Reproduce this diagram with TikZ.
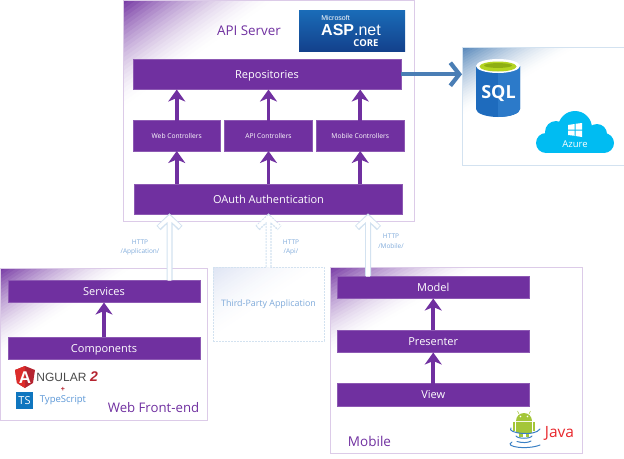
\documentclass[tikz,border=0pt]{standalone}
\usepackage{fontspec}
\setmainfont{Open Sans}
\newfontfamily\heros{Liberation Sans}
\usetikzlibrary{arrows.meta,calc}
\definecolor{brand}{HTML}{7030A0}
\definecolor{brandedge}{HTML}{DCCBE8}
\definecolor{paleblue}{HTML}{D3E2F0}
\definecolor{linkblue}{HTML}{7FAADA}
\definecolor{steel}{HTML}{4A7EB5}
\definecolor{glowpale}{HTML}{DDE3F3}
\definecolor{sqlleft}{HTML}{1E6BBD}
\definecolor{sqlright}{HTML}{2C7AC9}
\definecolor{sqlgreen}{HTML}{B4D422}
\definecolor{sqlgreendark}{HTML}{8FAE14}
\definecolor{azurecyan}{HTML}{00BCF2}
\definecolor{asptop}{HTML}{1A6CB8}
\definecolor{aspbottom}{HTML}{13418C}
\definecolor{ngleft}{HTML}{DD2C2A}
\definecolor{ngright}{HTML}{B52430}
\definecolor{ngtext}{HTML}{4A4A4A}
\definecolor{tsblue}{HTML}{0F76BF}
\definecolor{tstext}{HTML}{5A96D6}
\definecolor{droid}{HTML}{A4C639}
\definecolor{javablue}{HTML}{3A80C4}
\definecolor{javared}{HTML}{E8272C}
\newcommand{\sz}[1]{\fontsize{#1}{#1}\selectfont}
\newcommand{\rectnode}[7]{\node[#2,minimum width={(#5)*1pt-(#3)*1pt},minimum height={(#6)*1pt-(#4)*1pt}] (#1) at ({(#3+#5)/2},{(#4+#6)/2}) {#7};}
% nested triangles from the panel's top-left corner: #1 colour, #2 x, #3 y, #4 reach in x, #5 reach in y
\newcommand{\cornerglow}[5]{%
  \foreach \s in {1,0.96,...,0.02}{
    \pgfmathsetmacro{\mixv}{100*(1-\s)^1.6}
    \fill[#1!\mixv!white] (#2,#3) -- ({#2+#4*\s},#3) -- (#2,{#3+#5*\s}) -- cycle;
  }}
\newcommand{\hollow}[4]{% #1 style, #2 bottom, #3 x, #4 tip y
  \draw[#1,hollowouter] (#2) -- (#3,#4+4) (#3-11,#4+14) -- (#3,#4+3.5) -- (#3+11,#4+14);
  \draw[hollowinner] ($(#2)+(0,0.5)$) -- (#3,#4+4.5) (#3-10.5,#4+13) -- (#3,#4+3.5) -- (#3+10.5,#4+13);}
\tikzset{
  x=1pt,y=-1pt,
  panel/.style={draw=brandedge,line width=0.9pt,inner sep=0pt,outer sep=0pt},
  bar/.style={draw=brand!80!white,line width=0.3pt,fill=brand,text=white,inner sep=0pt,outer sep=0pt,font=\sz{11},text height=9pt,text depth=1pt},
  smallbar/.style={bar,font=\sz{6.7},text height=5.6pt,text depth=0.6pt},
  up/.style={brand,line width=3.8pt,-{Stealth[length=12pt,width=17pt,inset=3.5pt]}},
  hollowouter/.style={paleblue,line width=6pt,line cap=butt,miter limit=10},
  hollowinner/.style={white,line width=3.6pt,line cap=butt,miter limit=10},
  dashline/.style={dash pattern=on 2pt off 1pt},
  paneltitle/.style={text=brand,inner sep=0pt},
  logotext/.style={text=white,inner sep=0pt},
  linklabel/.style={text=linkblue,inner sep=0pt,font=\sz{6.5},align=center},
  swirl/.style={javablue,line width=1pt,line cap=round},
}
\begin{document}
\begin{tikzpicture}
\useasboundingbox (0,0) rectangle (624,458);
% corner gradients
\cornerglow{brand}{123}{0.5}{155}{110}
\cornerglow{steel}{462}{47}{118}{70}
\cornerglow{brand}{0.5}{268}{135}{90}
\cornerglow{brand}{330}{267}{155}{90}
\cornerglow{glowpale}{213}{267}{111}{74}
% panels
\rectnode{api}{panel}{123}{0.5}{414}{221.5}{}
\rectnode{data}{panel,draw=paleblue}{462}{47}{625}{165}{}
\rectnode{web}{panel}{0.5}{268}{207}{420}{}
\rectnode{mobile}{panel}{330}{267}{582}{453.5}{}
\rectnode{third}{panel,draw=paleblue,dashline,text=linkblue,font=\sz{8.9}}{213}{267}{324}{341}{Third-Party Application}
% API server
\node[paneltitle,font=\sz{13.4}] (apititle) at (249,31) {API Server};
\rectnode{repos}{bar}{133}{59}{401}{89.5}{Repositories}
\rectnode{webctl}{smallbar}{133}{120.5}{220.5}{151}{Web Controllers}
\rectnode{apictl}{smallbar}{224.5}{120.5}{312.5}{151}{API Controllers}
\rectnode{mobctl}{smallbar}{316.5}{120.5}{404}{151}{Mobile Controllers}
\rectnode{oauth}{bar}{134.5}{184}{402.5}{214}{OAuth Authentication}
\foreach \c in {webctl,apictl,mobctl}{
  \draw[up] (\c.north) -- (\c.north |- repos.south);
  \draw[up] (\c.south |- oauth.north) -- (\c.south);
}
% ASP.NET logo
\rectnode{asp}{inner sep=0pt,outer sep=0pt,top color=asptop,bottom color=aspbottom}{299}{10}{405}{51}{}
\node[logotext,font=\heros\sz{7}] (aspms) at (335.5,17.5) {Microsoft};
\node[logotext,font=\heros\sz{16}] (aspname) at (351,29.5) {\textbf{ASP}.net};
\node[logotext,font=\sz{9.5}\bfseries] (aspcore) at (366,43) {CORE};
% data panel
\draw[steel,line width=4.2pt,-{Straight Barb[length=9pt,width=23pt]}] (repos.east) -- (repos.east -| data.west);
\fill[sqlleft] (476,66) -- (476,109) arc[start angle=180,end angle=0,x radius=22,y radius=8] -- (520,66) -- cycle;
\fill[sqlright] (498,66) -- (498,117) arc[start angle=90,end angle=0,x radius=22,y radius=8] -- (520,66) -- cycle;
\fill[white] (498,66) ellipse[x radius=22,y radius=7];
\fill[sqlgreen] (498,66.5) ellipse[x radius=18.5,y radius=5];
\fill[sqlgreendark] (498,65.5) ellipse[x radius=14,y radius=2.4];
\node[logotext,font=\sz{18}\bfseries] (sql) at (498.5,94) {SQL};
\fill[azurecyan] (546,133) rectangle (604,153);
\fill[azurecyan] (546,143) circle[radius=10];
\fill[azurecyan] (604,143) circle[radius=10];
\fill[azurecyan] (556,132) circle[radius=11];
\fill[azurecyan] (575,128) circle[radius=17];
\fill[azurecyan] (597,134) circle[radius=10];
\fill[white] (568,125) -- (574.5,124) -- (574.5,129.5) -- (568,129.5) -- cycle
             (575.5,123.8) -- (582,123) -- (582,129.5) -- (575.5,129.5) -- cycle
             (568,130.5) -- (574.5,130.5) -- (574.5,135.8) -- (568,135) -- cycle
             (575.5,130.5) -- (582,130.5) -- (582,137) -- (575.5,136) -- cycle;
\node[logotext,font=\sz{9.5}] (azure) at (575,144.5) {Azure};
% web front-end
\rectnode{services}{bar}{8}{280}{200}{302.5}{Services}
\rectnode{components}{bar}{8}{337}{200}{359.5}{Components}
\draw[up] (components.north) -- (services.south);
\node[paneltitle,font=\sz{13.2}] (webtitle) at (153.5,407.5) {Web Front-end};
\fill[ngright] (25,366) -- (15,370) -- (17,383) -- (25,388) -- (33,383) -- (35,370) -- cycle;
\fill[ngleft] (25,366) -- (15,370) -- (17,383) -- (25,388) -- cycle;
\node[logotext,font=\heros\sz{17}\bfseries] (nga) at (25,377.5) {A};
\node[text=ngtext,inner sep=0pt,font=\heros\sz{12}] (ngname) at (61.5,377) {NGULAR};
\node[text=ngright,inner sep=0pt,font=\heros\sz{14}\bfseries\itshape] (ngtwo) at (94,377) {2};
\node[text=ngright,inner sep=0pt,font=\heros\sz{7}\bfseries] (ngplus) at (63,389.5) {+};
\node[fill=tsblue,minimum size=17pt,inner sep=0pt,text=white,font=\sz{11}] (ts) at (24.5,400.5) {TS};
\node[text=tstext,inner sep=0pt,font=\sz{9.5}] (tsname) at (63,400) {TypeScript};
% mobile
\rectnode{model}{bar}{337.5}{276}{529}{298.5}{Model}
\rectnode{presenter}{bar}{337.5}{330}{529}{352.5}{Presenter}
\rectnode{viewbar}{bar}{337.5}{383.5}{529}{406}{View}
\draw[up] (presenter.north) -- (model.south);
\draw[up] (viewbar.north) -- (presenter.south);
\node[paneltitle,font=\sz{13.5}] (mobtitle) at (369.5,441) {Mobile};
% android + java
\fill[droid] (516,421) arc[start angle=180,end angle=360,radius=8] -- cycle;
\fill[droid] (516,422) rectangle (532,433);
\fill[droid] (513,422) rectangle (515.2,431);
\fill[droid] (532.8,422) rectangle (535,431);
\fill[droid] (519,433) rectangle (522.5,437);
\fill[droid] (525.5,433) rectangle (529,437);
\draw[droid,line width=0.5pt] (519,414) -- (517.5,411) (529,414) -- (530.5,411);
\fill[white] (520.5,416.5) circle[radius=0.8] (527.5,416.5) circle[radius=0.8];
\draw[swirl] (511,428) .. controls (506,433) and (535,437) .. (540,429);
\draw[swirl] (516,436) .. controls (518,439) and (530,439) .. (532,436);
\draw[swirl] (517,441.5) .. controls (522,443) and (528,443) .. (531,441);
\draw[swirl] (512,442) .. controls (503,447) and (528,450) .. (540,445);
\node[text=javared,inner sep=0pt,font=\sz{15.5}] (java) at (559.5,433) {Java};
% http links
\coordinate (lwebb) at (services.north -| 169.5,0);
\coordinate (lapib) at (third.north);
\coordinate (lmobb) at (model.north -| 368,0);
\hollow{}{lwebb}{169.5}{214}
\hollow{dashline}{lapib}{268.5}{214}
\hollow{}{lmobb}{368}{214}
\node[linklabel] (lbla) at (140,247.5) {HTTP\\[3pt]/Application/};
\node[linklabel] (lblb) at (291,247.5) {HTTP\\[3pt]/Api/};
\node[linklabel] (lblc) at (391,241) {HTTP\\[3pt]/Mobile/};
\end{tikzpicture}
\end{document}
